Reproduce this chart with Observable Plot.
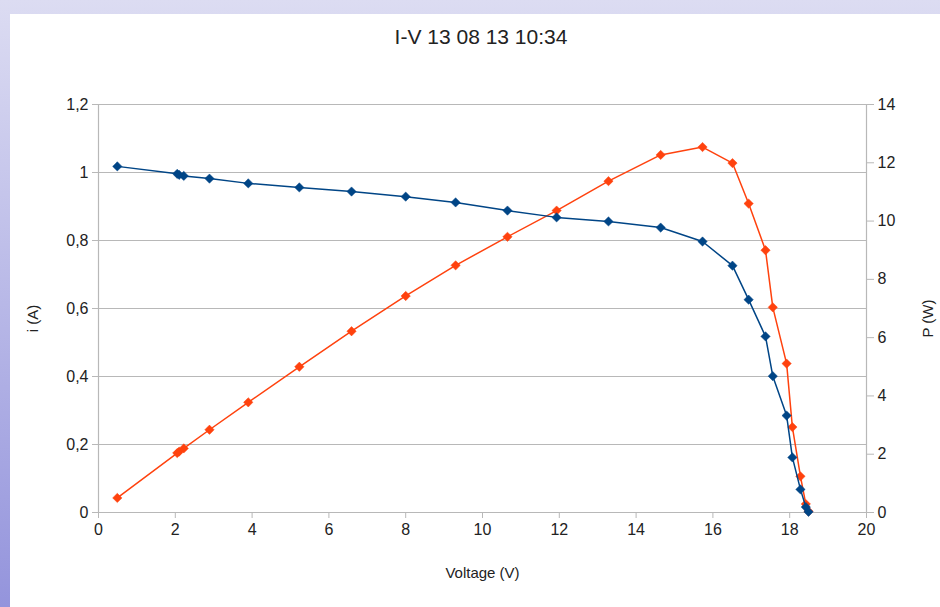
<!DOCTYPE html>
<html>
<head>
<meta charset="utf-8">
<script src="https://cdn.jsdelivr.net/npm/d3@7"></script>
<script src="https://cdn.jsdelivr.net/npm/@observablehq/plot@0.6"></script>
<style>
  html, body { margin: 0; padding: 0; }
  body { width: 940px; height: 607px; overflow: hidden; position: relative;
         background: linear-gradient(to bottom, #dcdcf2, #9494dc); font-family: "Liberation Sans", Arial, sans-serif; }
  #panel { position: absolute; left: 10px; top: 14px; width: 930px; height: 593px; background: #fff; }
  #title { position: absolute; top: 25px; left: 0; width: 962px; text-align: center; font-size: 21px; color: #222; }
  #chart { position: absolute; left: 0; top: 60px; }
</style>
</head>
<body>
<div id="panel"></div>
<div id="title">I-V 13 08 13 10:34</div>
<div id="chart"></div>
<script>
const voltage = [0.49, 2.05, 2.1, 2.22, 2.89, 3.9, 5.23, 6.59, 8.0, 9.3, 10.65, 11.93, 13.28, 14.64, 15.73, 16.51, 16.93, 17.37, 17.56, 17.92, 18.07, 18.28, 18.42, 18.49];
const current = [1.018, 0.996, 0.993, 0.99, 0.982, 0.968, 0.956, 0.944, 0.929, 0.912, 0.888, 0.868, 0.856, 0.838, 0.797, 0.726, 0.626, 0.518, 0.401, 0.285, 0.162, 0.068, 0.016, 0.002];
const power = [0.50, 2.04, 2.09, 2.20, 2.84, 3.78, 5.00, 6.22, 7.43, 8.48, 9.46, 10.36, 11.37, 12.27, 12.54, 11.99, 10.60, 9.00, 7.04, 5.11, 2.93, 1.24, 0.29, 0.04];
const xTicks = [0, 2, 4, 6, 8, 10, 12, 14, 16, 18, 20];
const iTicks = [0, 0.2, 0.4, 0.6, 0.8, 1, 1.2];
const pTicks = [0, 2, 4, 6, 8, 10, 12, 14];
const iMax = 1.2, pMax = 14;

const rows = voltage.map((v, k) => ({v, i: current[k], p: power[k]}));
const pToY = p => p * iMax / pMax;
const grid = "#b8b8b8";
const ink = "#222";

const chart = Plot.plot({
  width: 940,
  height: 547,
  marginLeft: 98,
  marginRight: 74,
  marginTop: 44,
  marginBottom: 95,
  style: {fontFamily: "Liberation Sans, Arial, sans-serif", fontSize: "16px", background: "transparent", color: ink},
  x: {domain: [0, 20]},
  y: {domain: [0, iMax]},
  marks: [
    Plot.ruleY(iTicks, {stroke: grid, strokeWidth: 1.2}),
    Plot.ruleX([0, 20], {stroke: grid, strokeWidth: 1.2}),
    Plot.axisX({ticks: xTicks, tickSize: 6, tickPadding: 5, stroke: grid, fill: ink, label: null, tickFormat: d => String(d)}),
    Plot.axisY({ticks: iTicks, tickSize: 6, tickPadding: 4, stroke: grid, fill: ink, label: null, tickFormat: d => String(d).replace(".", ",")}),
    Plot.axisY({anchor: "right", ticks: pTicks.map(pToY), tickSize: 7, tickPadding: 4, stroke: grid, fill: ink, label: null, tickFormat: d => String(Math.round(d * pMax / iMax))}),
    Plot.text(["i (A)"], {frameAnchor: "left", textAnchor: "middle", dx: -65, dy: 10, rotate: -90, fontSize: 15, fill: ink}),
    Plot.text(["P (W)"], {frameAnchor: "right", textAnchor: "middle", dx: 62, dy: 10, rotate: -90, fontSize: 15, fill: ink}),
    Plot.text(["Voltage (V)"], {frameAnchor: "bottom", textAnchor: "middle", dy: 65, fontSize: 15, fill: ink}),
    Plot.line(rows, {x: "v", y: d => pToY(d.p), stroke: "#ff420e", strokeWidth: 1.5}),
    Plot.dot(rows, {x: "v", y: d => pToY(d.p), symbol: "diamond2", r: 4.2, fill: "#ff420e", stroke: "#ff420e", strokeWidth: 0.5}),
    Plot.line(rows, {x: "v", y: "i", stroke: "#004586", strokeWidth: 1.5}),
    Plot.dot(rows, {x: "v", y: "i", symbol: "diamond2", r: 4.2, fill: "#004586", stroke: "#004586", strokeWidth: 0.5})
  ]
});
document.getElementById("chart").appendChild(chart);
</script>
</body>
</html>
